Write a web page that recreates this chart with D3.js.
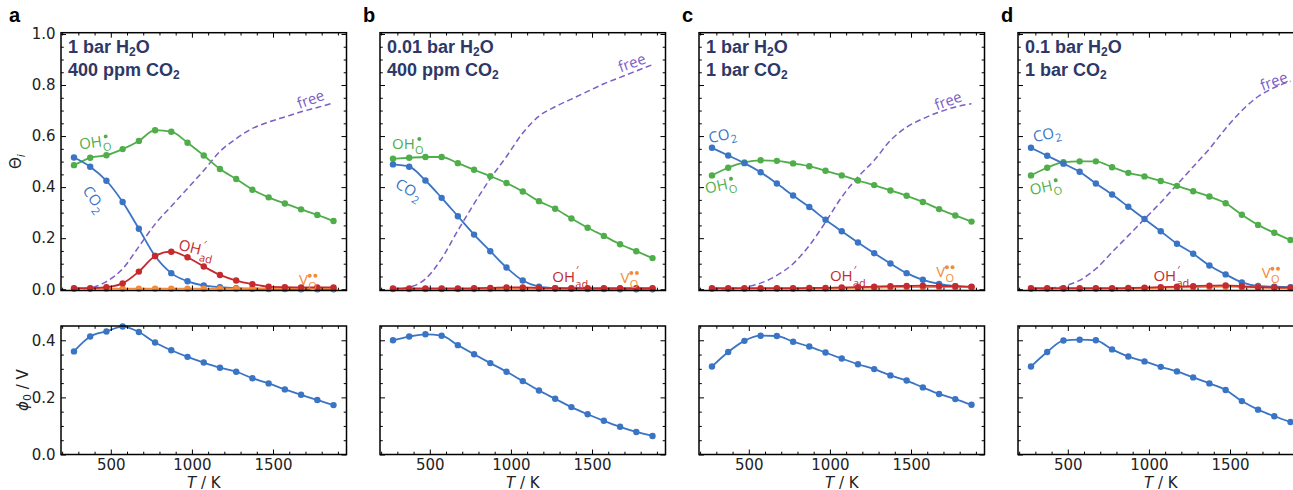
<!DOCTYPE html>
<html><head><meta charset="utf-8">
<script src="https://cdn.jsdelivr.net/npm/d3@7"></script>
<style>body{margin:0;background:#fff}</style>
</head><body><svg id="c" width="1293" height="490"></svg>
<script>
// ---------------- data ----------------
const temps = [273,373,473,573,673,773,873,973,1073,1173,1273,1373,1473,1573,1673,1773,1873];
const panelLetters = ['a','b','c','d'];
const condH2O = ['1 bar H₂O','0.01 bar H₂O','1 bar H₂O','0.1 bar H₂O'];
const condCO2 = ['400 ppm CO₂','400 ppm CO₂','1 bar CO₂','1 bar CO₂'];
const xTicks = [500,1000,1500];
const xMinor = [200,300,400,600,700,800,900,1100,1200,1300,1400,1600,1700,1800,1900];
const thetaTicks = [0,0.2,0.4,0.6,0.8,1.0];
const thetaMinor = [0.05,0.1,0.15,0.25,0.3,0.35,0.45,0.5,0.55,0.65,0.7,0.75,0.85,0.9,0.95];
const phiTicks = [0,0.2,0.4];
const phiMinor = [0.05,0.1,0.15,0.25,0.3,0.35];

// coverage, panel a
const ohoA  = [0.486,0.515,0.525,0.549,0.581,0.623,0.617,0.574,0.524,0.471,0.432,0.390,0.360,0.336,0.313,0.291,0.267];
const co2A  = [0.516,0.480,0.425,0.342,0.237,0.130,0.063,0.031,0.015,0.008,0.004,0.002,0.001,0.001,0,0,0];
const ohadA = [0.004,0.004,0.008,0.023,0.069,0.130,0.147,0.125,0.089,0.056,0.034,0.020,0.010,0.008,0.007,0.007,0.007];
const voA   = [0.002,0.002,0.002,0.002,0.002,0.002,0.002,0.002,0.002,0.002,0.002,0.003,0.003,0.003,0.003,0.003,0.003];
const freeA = [0,0.005,0.03,0.08,0.167,0.255,0.325,0.395,0.465,0.54,0.59,0.63,0.655,0.675,0.695,0.712,0.73];
// panel b
const ohoB  = [0.511,0.515,0.518,0.518,0.494,0.468,0.443,0.416,0.383,0.345,0.315,0.277,0.241,0.209,0.176,0.149,0.122];
const co2B  = [0.489,0.480,0.426,0.358,0.286,0.214,0.149,0.085,0.034,0.010,0.004,0.002,0.001,0.001,0,0,0];
const ohadB = [0.003,0.003,0.003,0.003,0.003,0.004,0.005,0.007,0.007,0.005,0.004,0.004,0.004,0.004,0.004,0.004,0.004];
const voB   = [0.001,0.001,0.001,0.001,0.001,0.001,0.001,0.002,0.002,0.002,0.002,0.002,0.002,0.002,0.002,0.002,0.002];
const freeB = [0,0.008,0.04,0.12,0.23,0.335,0.433,0.52,0.612,0.678,0.715,0.745,0.775,0.805,0.83,0.855,0.88];
// panel c
const ohoC  = [0.446,0.476,0.497,0.505,0.503,0.493,0.482,0.464,0.446,0.426,0.408,0.387,0.366,0.342,0.314,0.289,0.265];
const co2C  = [0.554,0.524,0.494,0.458,0.414,0.367,0.322,0.272,0.227,0.183,0.141,0.101,0.063,0.037,0.021,0.012,0.008];
const ohadC = [0.004,0.004,0.004,0.004,0.004,0.004,0.005,0.005,0.007,0.008,0.010,0.012,0.013,0.014,0.013,0.012,0.010];
const voC   = [0.002,0.002,0.002,0.002,0.002,0.002,0.003,0.003,0.004,0.005,0.006,0.007,0.008,0.008,0.008,0.008,0.008];
const freeC = [0,0.001,0.008,0.024,0.054,0.10,0.171,0.263,0.361,0.44,0.505,0.583,0.635,0.668,0.694,0.714,0.727];
// panel d
const ohoD  = [0.446,0.476,0.498,0.501,0.501,0.478,0.456,0.442,0.424,0.405,0.384,0.363,0.337,0.292,0.252,0.221,0.193];
const co2D  = [0.554,0.523,0.492,0.460,0.414,0.371,0.323,0.275,0.227,0.178,0.139,0.093,0.058,0.027,0.013,0.010,0.008];
const ohadD = [0.004,0.004,0.004,0.004,0.004,0.004,0.005,0.006,0.008,0.010,0.012,0.014,0.015,0.012,0.008,0.007,0.006];
const voD   = [0.002,0.002,0.002,0.002,0.002,0.002,0.003,0.004,0.005,0.007,0.008,0.009,0.010,0.008,0.006,0.005,0.004];
const freeD = [0,0.003,0.012,0.035,0.08,0.145,0.21,0.275,0.34,0.41,0.48,0.55,0.63,0.70,0.755,0.79,0.815];

// surface potential phi_0 (V)
const phiA = [0.361,0.413,0.431,0.448,0.429,0.392,0.365,0.342,0.322,0.304,0.290,0.267,0.249,0.228,0.209,0.191,0.173];
const phiB = [0.400,0.413,0.421,0.416,0.383,0.351,0.320,0.290,0.257,0.224,0.195,0.166,0.141,0.118,0.097,0.079,0.065];
const phiC = [0.308,0.359,0.398,0.416,0.415,0.395,0.378,0.357,0.336,0.316,0.299,0.277,0.259,0.235,0.212,0.194,0.174];
const phiD = [0.308,0.359,0.399,0.402,0.400,0.368,0.343,0.326,0.307,0.291,0.270,0.249,0.226,0.187,0.157,0.134,0.114];

// in-plot species labels (anchor in data units T, theta; rotation in degrees)
const labelsA = [{k:'oho',T:310,v:0.547,r:-8},{k:'co2',T:322,v:0.387,r:55},{k:'ohad',T:912,v:0.156,r:14},{k:'vo',T:1660,v:0.016,r:0},{k:'free',T:1661,v:0.706,r:-20}];
const labelsB = [{k:'oho',T:267,v:0.551,r:0},{k:'co2',T:281,v:0.40,r:30},{k:'ohad',T:1255,v:0.030,r:0},{k:'vo',T:1676,v:0.026,r:0},{k:'free',T:1676,v:0.849,r:-20}];
const labelsC = [{k:'co2',T:259,v:0.572,r:-12},{k:'oho',T:238,v:0.374,r:-12},{k:'ohad',T:1000,v:0.032,r:0},{k:'vo',T:1655,v:0.049,r:0},{k:'free',T:1658,v:0.70,r:-20}];
const labelsD = [{k:'co2',T:293,v:0.576,r:-12},{k:'oho',T:273,v:0.368,r:-12},{k:'ohad',T:1028,v:0.032,r:0},{k:'vo',T:1695,v:0.043,r:0},{k:'free',T:1701,v:0.777,r:-20}];

// ---------------- layout / style ----------------
const colors = {oho:'#4fae4a', co2:'#3a74c4', ohad:'#c42a2e', vo:'#f28c3b', free:'#7b5ec6'};
const navy = '#2d3867';
const panels = [
  {oho:ohoA,co2:co2A,ohad:ohadA,vo:voA,free:freeA,phi:phiA,labels:labelsA},
  {oho:ohoB,co2:co2B,ohad:ohadB,vo:voB,free:freeB,phi:phiB,labels:labelsB},
  {oho:ohoC,co2:co2C,ohad:ohadC,vo:voC,free:freeC,phi:phiC,labels:labelsC},
  {oho:ohoD,co2:co2D,ohad:ohadD,vo:voD,free:freeD,phi:phiD,labels:labelsD}
];
const lefts = [61,380,699,1018];
const W = 285.5;
const topY0 = 32.7, topY1 = 290.5;
const botY0 = 326, botY1 = 454.5;
const tickFont = '"DejaVu Sans", sans-serif';
const svg = d3.select('#c');
svg.append('rect').attr('width',1293).attr('height',490).attr('fill','#fff');

function addAxes(g, x, y, yMaj, yMin, showY, showX, y0, y1) {
  const mk = (ax, vals, size, fmt, pad) => ax.tickValues(vals).tickSize(-size).tickPadding(pad).tickFormat(fmt || (() => ''));
  const fx = d3.format('d'), fy = d3.format('.1f');
  const layers = [
    [d3.axisBottom(x), xTicks, 5, showX ? fx : null, `translate(0,${y1})`, 4.5],
    [d3.axisBottom(x), xMinor, 2.8, null, `translate(0,${y1})`, 4],
    [d3.axisTop(x), xTicks, 5, null, `translate(0,${y0})`, 4],
    [d3.axisTop(x), xMinor, 2.8, null, `translate(0,${y0})`, 4],
    [d3.axisLeft(y), yMaj, 5, showY ? fy : null, `translate(${x.range()[0]},0)`, 5.5],
    [d3.axisLeft(y), yMin, 2.8, null, `translate(${x.range()[0]},0)`, 4],
    [d3.axisRight(y), yMaj, 5, null, `translate(${x.range()[1]},0)`, 4],
    [d3.axisRight(y), yMin, 2.8, null, `translate(${x.range()[1]},0)`, 4]
  ];
  layers.forEach(([ax, vals, size, fmt, tr, pad]) => {
    const a = g.append('g').attr('transform', tr).call(mk(ax, vals, size, fmt, pad));
    a.select('.domain').remove();
    a.selectAll('line').attr('stroke','#000').attr('stroke-width',1);
    a.selectAll('text').attr('fill','#222').style('font-family', tickFont).style('font-size','15px');
    if (!fmt) a.selectAll('text').remove();
  });
  g.append('rect').attr('x',x.range()[0]).attr('y',y0).attr('width',x.range()[1]-x.range()[0]).attr('height',y1-y0)
    .attr('fill','none').attr('stroke','#000').attr('stroke-width',1.5);
}

function drawHeader(g, str, x, y) {
  const t = g.append('text').attr('x',x).attr('y',y).attr('fill',navy)
    .style('font-family','"Liberation Sans", Arial, sans-serif').style('font-weight','bold').style('font-size','18px');
  const parts = str.split('₂');
  parts.forEach((p,i) => {
    if (i>0) {
      t.append('tspan').attr('dy',3.5).style('font-size','12px').text('2');
      t.append('tspan').attr('dy',-3.5).text(p);
    } else t.append('tspan').text(p);
  });
}

function drawLabel(g, k, px, py, rot) {
  const col = colors[k];
  const lg = g.append('g').attr('transform',`translate(${px},${py}) rotate(${rot})`).attr('fill',col)
    .style('font-family','"Open Sans", sans-serif');
  const fs = 15, fss = 11;
  const mainTxt = {oho:'OH', co2:'CO', ohad:'OH', vo:'V', free:'free'}[k];
  const t = lg.append('text').style('font-size',fs+'px');
  const main = t.append('tspan').attr('x',0).attr('y',0).text(mainTxt);
  const w = main.node().getComputedTextLength();
  if (k==='co2') t.append('tspan').attr('x',w+0.5).attr('y',4.5).style('font-size',fss+'px').text('2');
  if (k==='oho' || k==='vo') {
    const s = t.append('tspan').attr('x',w+0.3).attr('y',5).style('font-size',fss+'px').text('O');
    const sw = s.node().getComputedTextLength();
    if (k==='oho') lg.append('circle').attr('cx',w+0.3+sw/2).attr('cy',-9.5).attr('r',2);
    else { lg.append('circle').attr('cx',w+0.3+sw/2-2.8).attr('cy',-9.5).attr('r',2);
           lg.append('circle').attr('cx',w+0.3+sw/2+2.8).attr('cy',-9.5).attr('r',2); }
  }
  if (k==='ohad') {
    t.append('tspan').attr('x',w+0.3).attr('y',6).style('font-size',fss+'px').text('ad');
    t.append('tspan').attr('x',w+1).attr('y',-7.2).style('font-size',fss+'px').text('′');
  }
}

panels.forEach((p, i) => {
  const L = lefts[i];
  const x = d3.scaleLinear().domain([193,1953]).range([L, L+W]);
  const yT = d3.scaleLinear().domain([-0.005,1.005]).range([topY1, topY0]);
  const yB = d3.scaleLinear().domain([0,0.45]).range([botY1, botY0]);
  const g = svg.append('g');

  // top panel
  const gt = g.append('g');
  const lineT = d3.line().x((d,j)=>x(temps[j])).y(d=>yT(d)).curve(d3.curveMonotoneX);
  gt.append('path').datum(p.free).attr('d',lineT).attr('fill','none').attr('stroke',colors.free)
    .attr('stroke-width',1.5).attr('stroke-dasharray','6,3.5');
  ['oho','co2','vo','ohad'].forEach(k => {
    gt.append('path').datum(p[k]).attr('d',lineT).attr('fill','none').attr('stroke',colors[k]).attr('stroke-width',1.8);
    gt.selectAll(null).data(p[k]).enter().append('circle')
      .attr('cx',(d,j)=>x(temps[j])).attr('cy',d=>yT(d)).attr('r',3.2).attr('fill',colors[k]);
  });
  addAxes(g, x, yT, thetaTicks, thetaMinor, i===0, false, topY0, topY1);
  drawHeader(g, condH2O[i], L+7, 52.5);
  drawHeader(g, condCO2[i], L+7, 75.5);
  p.labels.forEach(l => drawLabel(g, l.k, x(l.T), yT(l.v), l.r));

  // bottom panel
  const lineB = d3.line().x((d,j)=>x(temps[j])).y(d=>yB(d)).curve(d3.curveMonotoneX);
  g.append('path').datum(p.phi).attr('d',lineB).attr('fill','none').attr('stroke',colors.co2).attr('stroke-width',1.8);
  g.selectAll(null).data(p.phi).enter().append('circle')
    .attr('cx',(d,j)=>x(temps[j])).attr('cy',d=>yB(d)).attr('r',3.2).attr('fill',colors.co2);
  addAxes(g, x, yB, phiTicks, phiMinor, i===0, true, botY0, botY1);

  // x label
  const xl = g.append('text').attr('x',L+W/2).attr('y',487.5).attr('text-anchor','middle').attr('fill','#222')
    .style('font-family',tickFont).style('font-size','15px');
  xl.append('tspan').style('font-style','italic').text('T');
  xl.append('tspan').text(' / K');

  // panel letter
  g.append('text').attr('x', i===0 ? 9 : L-17).attr('y',22).text(panelLetters[i])
    .style('font-family','"Liberation Sans", Arial, sans-serif').style('font-weight','bold').style('font-size','20px').attr('fill','#000');
});

// y-axis titles
const yl1 = svg.append('text').attr('transform','translate(21,161.6) rotate(-90)').attr('text-anchor','middle')
  .attr('fill','#222').style('font-family',tickFont).style('font-size','15px');
yl1.append('tspan').text('Θ');
yl1.append('tspan').attr('dy',3.5).style('font-size','11px').style('font-style','italic').text('i');
const yl2 = svg.append('text').attr('transform','translate(28,390) rotate(-90)').attr('text-anchor','middle')
  .attr('fill','#222').style('font-family',tickFont).style('font-size','15px');
yl2.append('tspan').style('font-style','italic').text('ϕ');
yl2.append('tspan').attr('dy',3).style('font-size','11px').text('0');
yl2.append('tspan').attr('dy',-3).text(' / V');
</script></body></html>
